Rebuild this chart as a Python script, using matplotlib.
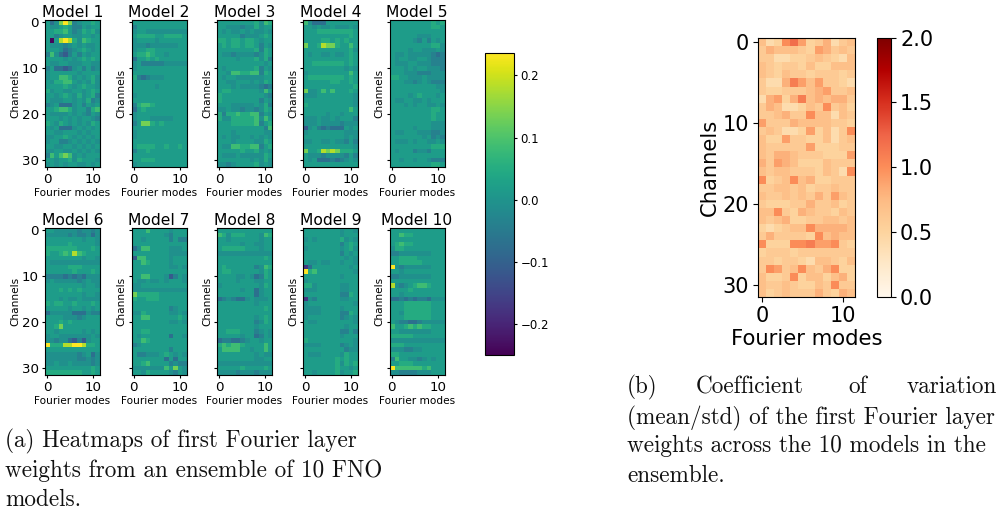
import numpy as np
import matplotlib
matplotlib.use("Agg")
import matplotlib.pyplot as plt

# weight levels
levels = {"0": -0.24, "1": -0.17, "2": -0.11, "3": -0.07, "4": -0.035, "5": -0.005,
          "6": 0.02, "7": 0.05, "8": 0.085, "9": 0.135, "a": 0.18, "b": 0.235}

model_1 = ["635 9b9 456 676", "655 676 446 566", "667 786 457 675", "664 566 556 656",
           "606 aba 758 766", "655 545 656 556", "666 534 567 656", "485 324 646 566",
           "666 656 567 676", "655 665 556 655", "463 323 564 645", "566 666 656 666",
           "566 887 565 675", "657 788 656 575", "666 676 567 665", "756 655 665 676",
           "665 676 575 674", "655 566 565 745", "456 333 564 656", "667 887 566 478",
           "655 556 565 465", "666 565 656 654", "765 765 656 576", "656 333 565 656",
           "665 566 656 566", "556 676 565 656", "566 445 656 565", "665 566 565 656",
           "556 655 656 565", "486 898 565 666", "665 667 576 665", "565 656 655 656"]
model_2 = ["666 666 666 666", "466 666 666 666", "566 555 555 555", "677 776 677 776",
           "566 665 666 666", "555 455 555 566", "566 776 666 666", "677 876 656 666",
           "366 767 666 666", "564 444 455 555", "566 666 666 666", "666 666 666 666",
           "743 455 566 666", "666 666 666 666", "666 665 666 666", "666 666 666 666",
           "566 666 666 666", "666 666 666 666", "478 876 666 666", "367 666 666 666",
           "566 666 666 666", "566 655 555 666", "469 976 766 666", "666 666 666 666",
           "566 666 666 666", "566 666 666 666", "666 666 666 666", "677 776 676 676",
           "466 766 666 666", "666 666 666 666", "667 776 666 666", "566 666 666 666"]
model_3 = ["666 666 667 587", "665 554 557 566", "656 556 565 565", "666 664 555 676",
           "776 776 776 566", "676 776 776 465", "666 666 667 476", "655 455 554 576",
           "666 656 667 574", "666 666 666 656", "656 666 667 465", "665 887 788 476",
           "656 655 555 566", "665 566 656 576", "666 565 555 434", "677 666 666 586",
           "766 666 666 654", "766 666 666 465", "666 555 556 574", "556 554 554 576",
           "747 787 788 465", "755 777 778 586", "666 777 778 467", "666 666 666 648",
           "666 566 666 655", "656 556 656 565", "666 566 665 576", "655 887 788 467",
           "666 667 667 565", "655 565 555 576", "666 666 656 575", "554 566 667 565"]
model_4 = ["853 336 666 666", "665 655 655 565", "666 777 777 776", "666 666 666 676",
           "666 677 676 766", "966 7a9 976 686", "666 666 666 675", "656 655 655 676",
           "666 666 666 676", "667 777 777 676", "666 666 666 565", "566 666 666 686",
           "677 777 777 676", "666 666 776 676", "666 666 666 667", "955 686 866 676",
           "555 666 666 665", "666 666 666 665", "766 666 666 665", "666 666 666 686",
           "666 665 665 666", "555 655 656 664", "555 655 554 555", "256 434 333 656",
           "566 666 666 555", "666 666 666 565", "556 655 655 464", "666 666 666 665",
           "966 7a9 a97 776", "655 545 555 464", "656 333 434 565", "666 666 666 666"]
model_5 = ["666 666 666 767", "666 666 666 776", "666 666 666 666", "666 666 555 666",
           "666 665 464 656", "666 666 666 775", "666 656 655 565", "655 655 555 434",
           "656 655 665 444", "655 566 555 444", "666 565 665 554", "666 555 444 555",
           "776 655 565 555", "666 554 565 444", "666 666 666 655", "666 666 666 665",
           "666 656 766 656", "655 665 565 666", "666 565 665 565", "666 666 666 776",
           "666 666 666 766", "666 666 666 766", "666 666 666 555", "666 665 666 555",
           "655 666 555 445", "666 666 656 454", "655 565 665 565", "666 666 666 777",
           "656 664 554 666", "666 666 666 666", "665 665 665 444", "666 666 666 776"]
model_6 = ["665 555 545 545", "555 554 544 535", "666 666 665 665", "666 667 666 665",
           "777 777 766 676", "766 787 a87 666", "666 666 665 665", "655 555 555 555",
           "666 667 776 666", "666 666 766 676", "444 434 343 555", "565 555 545 655",
           "666 666 665 665", "666 767 676 666", "666 666 665 665", "666 565 565 555",
           "767 766 766 676", "666 665 665 656", "355 555 333 544", "666 655 545 666",
           "666 767 666 666", "667 966 666 666", "665 666 665 656", "566 555 555 565",
           "554 553 242 566", "b77 7aa bba 776", "666 666 666 666", "555 555 545 635",
           "555 555 544 545", "556 556 555 545", "666 666 666 676", "777 777 776 676"]
model_7 = ["666 866 665 666", "666 666 654 666", "665 666 664 644", "666 666 666 666",
           "358 866 665 556", "666 666 665 555", "288 666 665 666", "668 766 665 666",
           "666 666 665 565", "666 666 666 666", "668 866 652 465", "655 655 656 665",
           "556 666 666 666", "555 555 555 555", "977 777 666 666", "766 777 666 666",
           "666 666 666 666", "666 666 664 566", "557 666 665 565", "668 866 666 676",
           "666 666 665 565", "666 666 666 666", "667 766 666 666", "656 666 663 665",
           "668 766 666 666", "456 666 666 666", "666 666 664 666", "644 555 676 565",
           "666 666 636 366", "667 866 664 544", "555 555 586 965", "665 766 665 465"]
model_8 = ["666 666 666 666", "875 777 666 587", "665 666 666 566", "666 665 665 566",
           "677 777 666 566", "555 555 555 555", "666 666 666 676", "666 666 666 666",
           "676 666 664 587", "677 666 666 576", "666 655 653 476", "666 656 665 566",
           "566 666 666 576", "666 665 663 566", "666 666 663 566", "345 433 565 556",
           "666 666 665 666", "666 666 666 676", "666 666 666 666", "666 666 665 676",
           "666 666 664 576", "666 666 665 666", "667 776 664 565", "666 665 663 465",
           "344 334 566 566", "787 887 666 686", "688 886 656 686", "666 666 665 655",
           "666 666 665 566", "555 555 555 555", "666 667 666 676", "555 545 554 555"]
model_9 = ["666 666 665 665", "666 666 665 666", "565 666 667 565", "666 666 664 676",
           "566 666 665 675", "666 666 664 656", "666 666 666 565", "655 655 665 665",
           "136 666 666 656", "b78 666 666 665", "666 666 665 666", "566 666 666 666",
           "775 666 665 566", "555 666 665 566", "666 666 664 476", "154 666 665 566",
           "566 666 666 665", "555 566 665 666", "555 566 664 476", "566 666 664 565",
           "655 666 666 665", "666 666 666 566", "666 666 664 464", "666 666 665 666",
           "766 666 666 665", "555 566 664 565", "666 666 666 455", "655 566 665 766",
           "666 666 676 766", "666 666 675 767", "666 666 676 656", "665 666 675 667"]
model_10 = ["666 666 666 666", "668 776 666 666", "666 666 666 666", "678 776 666 666",
            "577 666 666 666", "445 555 555 666", "667 777 666 666", "667 777 766 666",
            "b54 555 555 666", "665 666 666 666", "445 555 555 666", "666 666 666 666",
            "a54 567 887 666", "666 676 666 666", "665 666 666 666", "334 343 443 555",
            "666 777 777 666", "666 777 777 666", "665 777 777 666", "666 777 777 666",
            "654 433 455 555", "866 787 877 666", "665 555 555 666", "777 776 666 666",
            "555 555 555 555", "777 666 666 666", "555 445 566 666", "776 666 666 666",
            "486 655 456 566", "667 776 666 666", "b88 888 878 666", "554 444 555 666"]

models = [model_1, model_2, model_3, model_4, model_5,
          model_6, model_7, model_8, model_9, model_10]
titles = ["Model 1", "Model 2", "Model 3", "Model 4", "Model 5",
          "Model 6", "Model 7", "Model 8", "Model 9", "Model 10"]

# coefficient of variation, one base 36 digit per cell, in tenths
cv_rows = ["745 ac9 568 467", "687 776 598 676", "664 455 676 547", "765 665 755 777",
           "765 766 566 656", "644 8b9 796 654", "655 666 789 667", "489 58b 787 886",
           "687 445 76a 675", "667 866 a77 476", "966 687 777 665", "676 445 957 46a",
           "755 966 557 467", "766 666 955 566", "768 876 665 559", "869 875 557 666",
           "767 766 657 64a", "a56 7a7 855 666", "667 767 566 766", "766 767 686 976",
           "655 566 866 756", "77a 658 766 576", "767 855 667 767", "545 677 a88 887",
           "686 666 5a7 877", "a55 5aa b99 a65", "566 656 666 666", "665 665 477 657",
           "6a9 67a 768 a55", "755 6a5 775 785", "766 765 576 a66", "756 766 686 587"]

weights = [np.array([[levels[c] for c in r.replace(" ", "")] for r in m]) for m in models]
cv = np.array([[int(c, 36) / 10 for c in r.replace(" ", "")] for r in cv_rows])

W, H = 1005, 512
fig = plt.figure(figsize=(W / 100, H / 100), dpi=100)


def box(x0, y0, x1, y1):
    # pixel box from the top left corner to figure fractions
    return [x0 / W, 1 - y1 / H, (x1 - x0) / W, (y1 - y0) / H]


lefts = [45, 131.5, 217, 303, 389.5]
tops = [20, 228]
vmin, vmax = -0.249, 0.236
for i, data in enumerate(weights):
    row, col = i // 5, i % 5
    ax = fig.add_axes(box(lefts[col], tops[row], lefts[col] + 55, tops[row] + 147))
    im = ax.imshow(data, cmap="viridis", vmin=vmin, vmax=vmax, aspect="auto")
    ax.set_title(titles[i], fontsize=11.2, pad=2)
    ax.set_xlabel("Fourier modes", fontsize=7.6, labelpad=1)
    ax.set_xticks([0, 10])
    ax.set_yticks([0, 10, 20, 30])
    ax.tick_params(labelsize=9.6, length=2.5, pad=2)
    if col != 0:
        ax.set_yticklabels([])
        ax.set_ylabel("Channels", fontsize=7.6, labelpad=-1)
    else:
        ax.set_ylabel("Channels", fontsize=7.6, labelpad=1)

cax = fig.add_axes(box(485, 53, 514, 355))
cb = fig.colorbar(im, cax=cax)
cb.set_ticks([-0.2, -0.1, 0.0, 0.1, 0.2])
cb.ax.tick_params(labelsize=8.5, length=2.5, pad=2)

ax = fig.add_axes(box(758, 37.7, 855, 296.7))
im2 = ax.imshow(cv, cmap="OrRd", vmin=0, vmax=2, aspect="auto")
ax.set_xticks([0, 10])
ax.set_yticks([0, 10, 20, 30])
ax.tick_params(labelsize=15, length=3.5, pad=3)
ax.set_xlabel("Fourier modes", fontsize=15.2, labelpad=2)
ax.set_ylabel("Channels", fontsize=15.2, labelpad=2)
cax2 = fig.add_axes(box(877, 37.7, 891, 296.7))
cb2 = fig.colorbar(im2, cax=cax2)
cb2.set_ticks([0, 0.5, 1, 1.5, 2])
cb2.ax.tick_params(labelsize=15, length=3.5, pad=3)


def caption(x, y, s):
    fig.text(x / W, 1 - y / H, s, family="cmr10", fontsize=16.7, color="#111111", va="baseline")


caption(5, 447, "(a) Heatmaps of first Fourier layer")
caption(5, 477, "weights from an ensemble of 10 FNO")
caption(5, 506, "models.")
caption(627, 393, "(b)")
caption(696, 393, "Coefficient")
caption(848, 393, "of")
caption(907, 393, "variation")
caption(627, 424, "(mean/std) of the first Fourier layer")
caption(627, 452, "weights across the 10 models in the")
caption(627, 482, "ensemble.")

fig.savefig("out.png", dpi=100)
